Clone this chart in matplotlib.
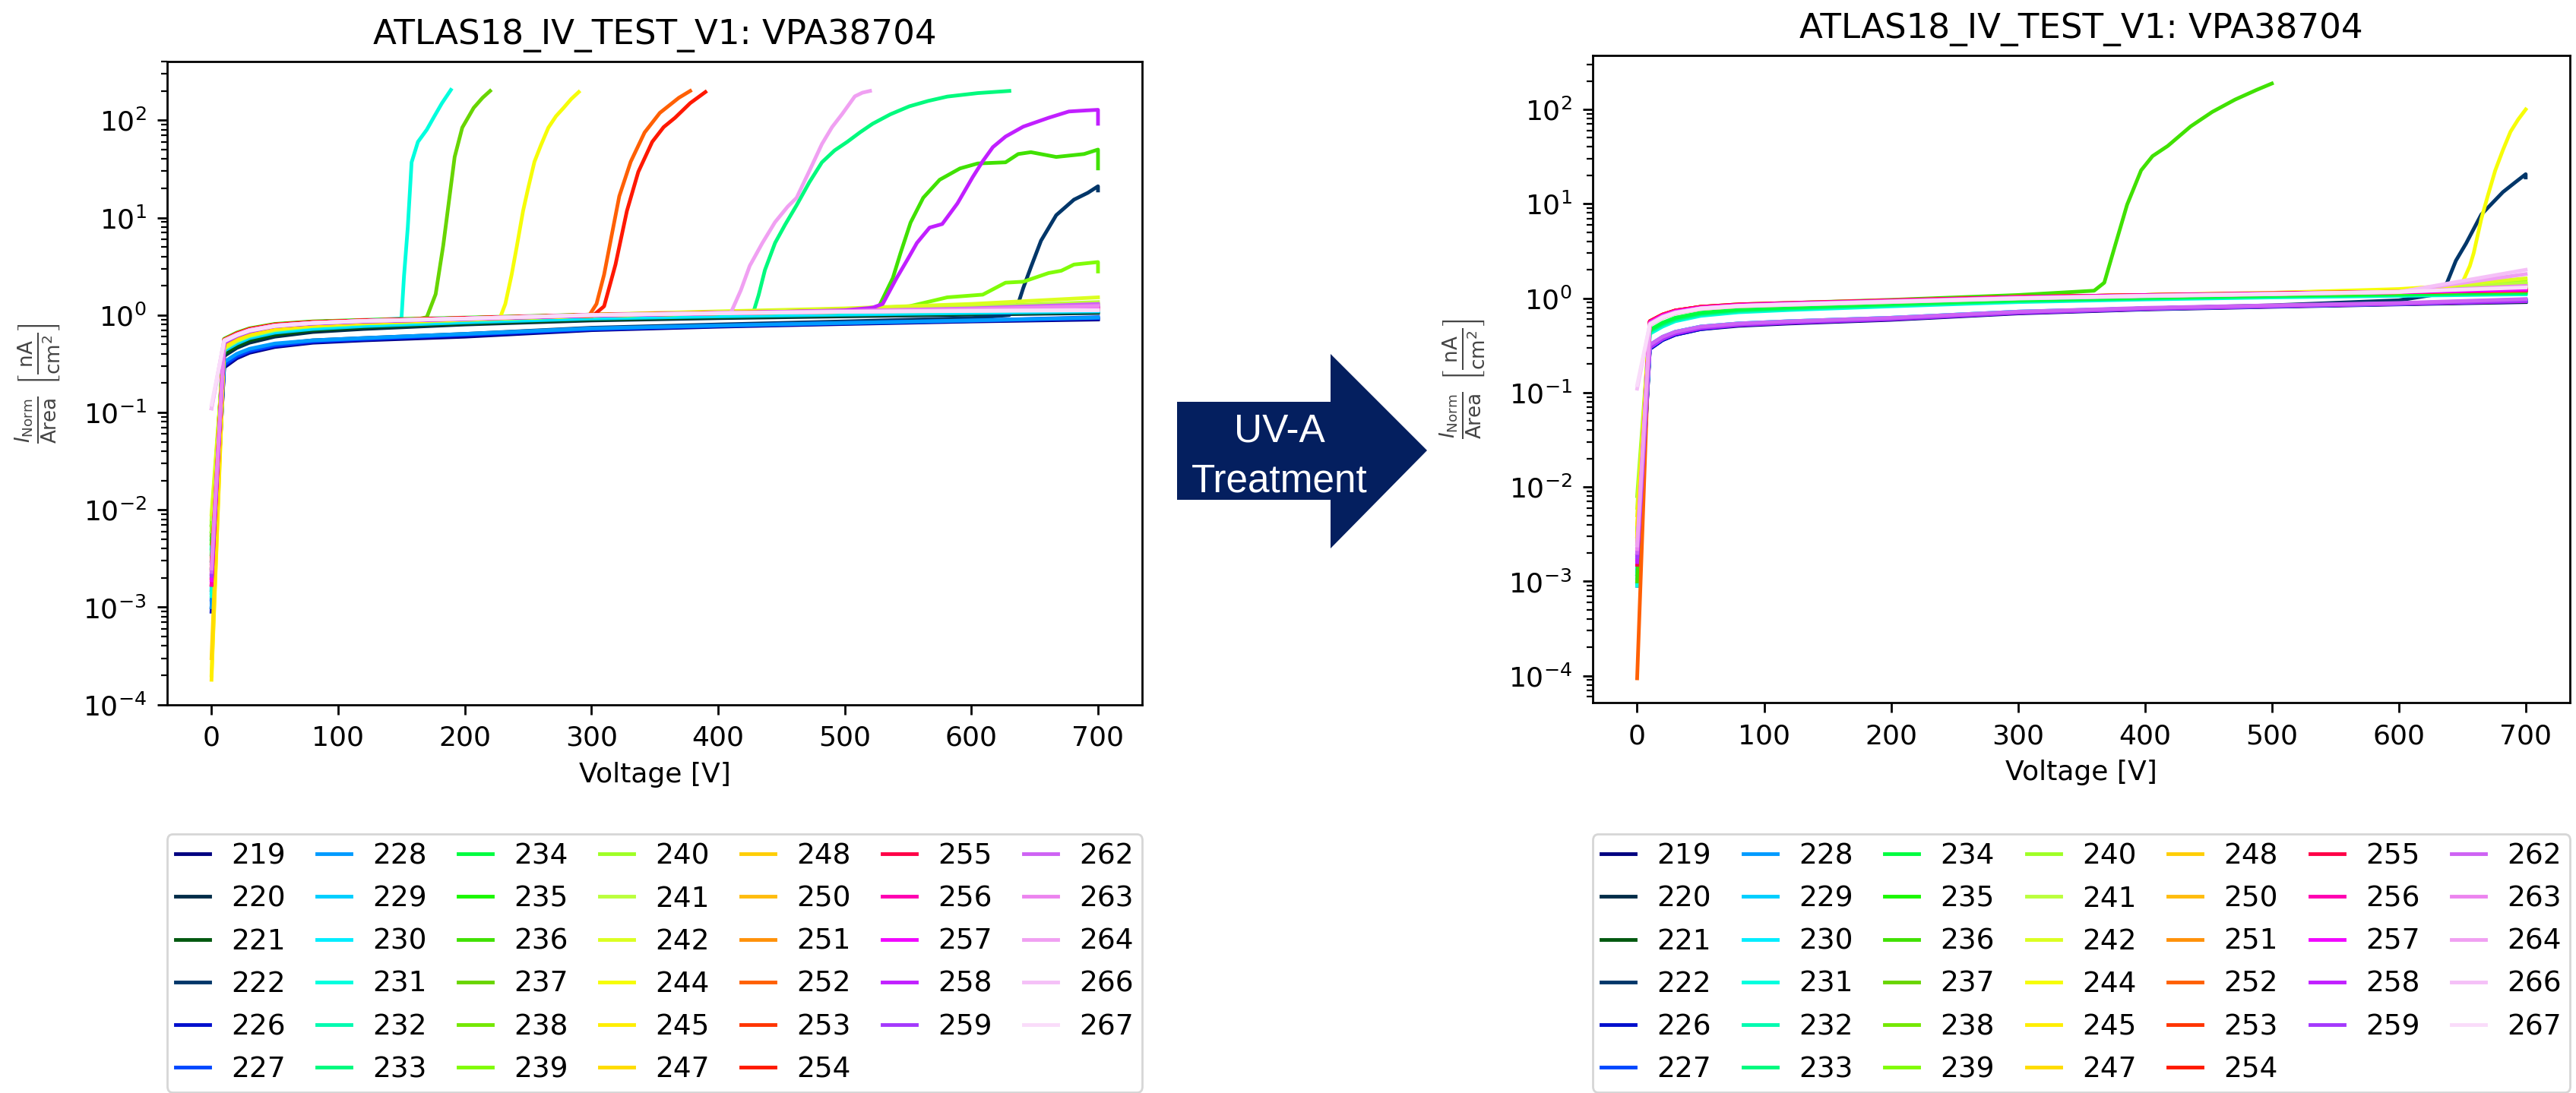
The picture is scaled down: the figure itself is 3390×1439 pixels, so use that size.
import matplotlib
matplotlib.use("Agg")
import matplotlib.pyplot as plt
import numpy as np
from matplotlib.patches import Polygon

# ---------------- data ----------------
LABELS = [219, 220, 221, 222, 226, 227, 228, 229, 230, 231, 232, 233, 234, 235,
          236, 237, 238, 239, 240, 241, 242, 244, 245, 247, 248, 250, 251, 252,
          253, 254, 255, 256, 257, 258, 259, 262, 263, 264, 266, 267]

V_GRID = [0, 10, 20, 30, 50, 80, 120, 200, 300, 400, 500, 600, 700]

TITLE = "ATLAS18_IV_TEST_V1: VPA38704"
XLABEL = "Voltage [V]"
YLABEL = r"$\frac{I_\mathrm{Norm}}{\mathrm{Area}}\ \left[\frac{\mathrm{nA}}{\mathrm{cm}^2}\right]$"
ARROW_TEXT = ["UV-A", "Treatment"]

# ---- before treatment (left panel), current density [nA/cm^2] on V_GRID ----
B219 = [1.0e-3, 0.29, 0.36, 0.41, 0.47, 0.52, 0.55, 0.60, 0.70, 0.76, 0.81, 0.86, 0.90]
B220 = [2.5e-3, 0.38, 0.46, 0.52, 0.60, 0.67, 0.72, 0.80, 0.88, 0.93, 0.97, 1.01, 1.05]
B221 = [3.0e-3, 0.40, 0.48, 0.55, 0.63, 0.70, 0.75, 0.82, 0.90, 0.95, 0.99, 1.03, 1.07]
B226 = [9.0e-4, 0.30, 0.37, 0.42, 0.48, 0.53, 0.56, 0.62, 0.71, 0.77, 0.82, 0.87, 0.92]
B227 = [1.2e-3, 0.31, 0.38, 0.43, 0.49, 0.54, 0.57, 0.63, 0.72, 0.78, 0.83, 0.88, 0.95]
B228 = [1.0e-3, 0.33, 0.40, 0.45, 0.51, 0.55, 0.58, 0.64, 0.73, 0.78, 0.83, 0.88, 0.94]
B229 = [1.4e-3, 0.43, 0.51, 0.58, 0.66, 0.72, 0.77, 0.84, 0.92, 0.97, 1.01, 1.05, 1.09]
B230 = [1.6e-3, 0.45, 0.53, 0.60, 0.68, 0.74, 0.79, 0.86, 0.94, 0.99, 1.03, 1.07, 1.11]
B232 = [4.0e-3, 0.52, 0.61, 0.68, 0.77, 0.82, 0.86, 0.91, 0.98, 1.03, 1.07, 1.10, 1.14]
B234 = [5.0e-3, 0.56, 0.65, 0.72, 0.80, 0.85, 0.88, 0.93, 1.00, 1.05, 1.09, 1.12, 1.16]
B235 = [6.0e-3, 0.57, 0.66, 0.73, 0.81, 0.86, 0.89, 0.94, 1.01, 1.06, 1.10, 1.13, 1.17]
B238 = [7.0e-3, 0.50, 0.59, 0.66, 0.75, 0.81, 0.85, 0.91, 0.99, 1.04, 1.08, 1.12, 1.18]
B240 = [6.0e-3, 0.46, 0.55, 0.62, 0.71, 0.77, 0.82, 0.89, 0.98, 1.04, 1.10, 1.18, 1.28]
B241 = [8.0e-3, 0.45, 0.54, 0.61, 0.70, 0.77, 0.82, 0.89, 0.99, 1.06, 1.13, 1.22, 1.36]
B242 = [9.0e-3, 0.48, 0.57, 0.65, 0.74, 0.80, 0.85, 0.91, 1.01, 1.09, 1.17, 1.30, 1.52]
B245 = [1.8e-4, 0.47, 0.56, 0.63, 0.72, 0.78, 0.83, 0.90, 0.98, 1.04, 1.09, 1.15, 1.22]
B247 = [3.0e-4, 0.50, 0.59, 0.66, 0.75, 0.81, 0.85, 0.91, 0.99, 1.04, 1.08, 1.13, 1.19]
B248 = [2.0e-3, 0.53, 0.62, 0.69, 0.78, 0.83, 0.87, 0.92, 1.00, 1.05, 1.09, 1.12, 1.16]
B250 = [2.2e-3, 0.54, 0.63, 0.70, 0.79, 0.84, 0.87, 0.92, 1.00, 1.05, 1.09, 1.12, 1.15]
B251 = [2.4e-3, 0.55, 0.64, 0.71, 0.79, 0.84, 0.88, 0.93, 1.00, 1.05, 1.09, 1.13, 1.17]
B253 = [2.6e-3, 0.56, 0.65, 0.72, 0.80, 0.85, 0.88, 0.93, 1.01, 1.06, 1.10, 1.13, 1.18]
B255 = [2.0e-3, 0.55, 0.64, 0.71, 0.79, 0.84, 0.88, 0.93, 1.00, 1.05, 1.09, 1.12, 1.16]
B256 = [1.7e-3, 0.54, 0.63, 0.70, 0.78, 0.83, 0.87, 0.92, 1.00, 1.05, 1.09, 1.12, 1.17]
B257 = [1.9e-3, 0.53, 0.62, 0.69, 0.77, 0.83, 0.87, 0.92, 0.99, 1.04, 1.08, 1.12, 1.18]
B259 = [2.1e-3, 0.52, 0.61, 0.68, 0.77, 0.82, 0.86, 0.91, 0.99, 1.04, 1.09, 1.15, 1.25]
B262 = [2.3e-3, 0.53, 0.62, 0.69, 0.77, 0.82, 0.86, 0.91, 0.99, 1.05, 1.10, 1.17, 1.30]
B263 = [2.5e-3, 0.54, 0.63, 0.70, 0.78, 0.83, 0.87, 0.92, 1.00, 1.05, 1.10, 1.15, 1.24]
B266 = [0.11, 0.55, 0.63, 0.70, 0.78, 0.83, 0.87, 0.92, 1.00, 1.05, 1.08, 1.11, 1.13]
B267 = [0.12, 0.54, 0.62, 0.69, 0.77, 0.83, 0.87, 0.92, 1.00, 1.04, 1.08, 1.10, 1.12]

# breakdown curves (own voltage lists)
B222_V = V_GRID[:12] + [630, 637, 641, 647, 655, 667, 681, 692, 700, 700]
B222 = [1.5e-3, 0.32, 0.39, 0.44, 0.50, 0.55, 0.58, 0.64, 0.74, 0.80, 0.86, 0.93,
        1.0, 1.31, 1.9, 3.1, 5.8, 10.6, 15.3, 18, 21, 19]
B231_V = V_GRID[:7] + [150, 152, 155, 158, 163, 170, 176, 182, 189]
B231 = [1.3e-3, 0.55, 0.64, 0.71, 0.80, 0.85, 0.88,
        0.92, 2.5, 8, 37, 60, 80, 110, 150, 205]
B233_V = V_GRID[:10] + [428, 432, 437, 445, 453, 462, 472, 482, 492, 502, 512, 522,
                        536, 551, 566, 581, 605, 630]
B233 = [3.5e-3, 0.55, 0.64, 0.71, 0.80, 0.85, 0.88, 0.93, 1.0, 1.05,
        1.08, 1.6, 2.9, 5.5, 8.5, 13.4, 23, 37, 49, 60, 75, 92, 115, 139, 158, 175, 190, 200]
B236_V = V_GRID[:11] + [527, 538, 544, 552, 562, 575, 591, 605, 627, 637, 647, 667,
                        689, 700, 700]
B236 = [4.5e-3, 0.54, 0.63, 0.70, 0.79, 0.84, 0.87, 0.92, 0.99, 1.04, 1.10,
        1.22, 2.4, 4.3, 8.9, 16, 24.5, 32, 36, 37, 45, 47, 42, 45, 50, 32]
B237_V = V_GRID[:7] + [165, 170, 177, 183, 188, 192, 198, 207, 214, 220]
B237 = [5.5e-3, 0.56, 0.65, 0.72, 0.80, 0.85, 0.88,
        0.92, 0.95, 1.64, 5.2, 16.6, 42, 84, 134, 170, 200]
B239_V = V_GRID[:11] + [551, 581, 609, 627, 641, 661, 671, 681, 700, 700]
B239 = [7e-3, 0.48, 0.57, 0.64, 0.73, 0.79, 0.83, 0.90, 0.99, 1.06, 1.14,
        1.23, 1.52, 1.62, 2.15, 2.2, 2.7, 2.85, 3.3, 3.5, 2.8]
B244_V = V_GRID[:8] + [228, 232, 237, 241, 246, 250, 255, 260, 266, 272, 278, 284, 290]
B244 = [2.0e-4, 0.49, 0.58, 0.65, 0.74, 0.80, 0.84, 0.91,
        0.95, 1.3, 2.6, 5, 11.7, 20, 37.5, 55, 84, 110, 134, 165, 195]
B252_V = V_GRID[:8] + [250, 298, 304, 310, 316, 322, 331, 342, 354, 369, 378]
B252 = [2.8e-3, 0.56, 0.65, 0.72, 0.80, 0.85, 0.88, 0.93,
        0.96, 0.98, 1.3, 2.6, 6.6, 16.6, 37.5, 75, 119, 170, 200]
B254_V = V_GRID[:8] + [250, 301, 310, 319, 328, 337, 348, 357, 366, 378, 390]
B254 = [1.7e-3, 0.55, 0.64, 0.71, 0.79, 0.84, 0.88, 0.93,
        0.96, 0.98, 1.23, 3.3, 11.7, 29.5, 60, 85, 106, 150, 195]
B258_V = V_GRID[:11] + [522, 530, 541, 550, 557, 567, 577, 589, 601, 609, 617, 627,
                        641, 661, 677, 690, 700, 700]
B258 = [2.2e-3, 0.52, 0.61, 0.68, 0.77, 0.82, 0.86, 0.91, 0.99, 1.04, 1.12,
        1.19, 1.3, 2.4, 3.8, 5.5, 7.9, 8.6, 14, 26, 38, 53, 68, 86, 106, 123, 126, 128, 92]
B264_V = V_GRID[:10] + [410, 418, 425, 435, 445, 455, 462, 472, 482, 490, 498, 508, 514, 520]
B264 = [0.11, 0.55, 0.63, 0.70, 0.78, 0.83, 0.87, 0.92, 1.0, 1.05,
        1.05, 1.8, 3.2, 5.5, 9, 13, 16, 30, 57, 85, 116, 176, 192, 200]

# ---- after UV-A treatment (right panel) ----
A219 = [1.0e-3, 0.29, 0.36, 0.41, 0.47, 0.51, 0.54, 0.59, 0.69, 0.76, 0.81, 0.86, 0.91]
A220 = [1.2e-3, 0.31, 0.38, 0.43, 0.49, 0.53, 0.56, 0.61, 0.71, 0.78, 0.83, 0.88, 0.94]
A221 = [1.1e-3, 0.30, 0.37, 0.42, 0.48, 0.52, 0.55, 0.60, 0.70, 0.77, 0.82, 0.87, 0.92]
A226 = [9.0e-4, 0.29, 0.36, 0.41, 0.47, 0.52, 0.55, 0.60, 0.70, 0.77, 0.82, 0.87, 0.93]
A227 = [1.3e-3, 0.31, 0.38, 0.43, 0.49, 0.53, 0.56, 0.61, 0.71, 0.78, 0.83, 0.88, 0.95]
A228 = [1.0e-3, 0.32, 0.39, 0.44, 0.50, 0.54, 0.57, 0.62, 0.72, 0.78, 0.83, 0.88, 0.96]
A229 = [1.4e-3, 0.30, 0.37, 0.43, 0.49, 0.53, 0.56, 0.61, 0.71, 0.77, 0.82, 0.87, 0.94]
A230 = [1.1e-3, 0.31, 0.38, 0.44, 0.50, 0.54, 0.57, 0.62, 0.72, 0.78, 0.83, 0.88, 0.97]
A231 = [9.0e-4, 0.42, 0.50, 0.57, 0.65, 0.71, 0.75, 0.82, 0.91, 0.97, 1.02, 1.06, 1.10]
A232 = [1.2e-3, 0.44, 0.52, 0.59, 0.67, 0.73, 0.77, 0.84, 0.93, 0.99, 1.04, 1.08, 1.12]
A233 = [1.5e-3, 0.45, 0.53, 0.60, 0.68, 0.74, 0.78, 0.85, 0.94, 1.00, 1.05, 1.09, 1.14]
A234 = [1.7e-3, 0.46, 0.55, 0.62, 0.70, 0.76, 0.80, 0.87, 0.95, 1.01, 1.06, 1.10, 1.15]
A235 = [2.0e-3, 0.56, 0.66, 0.73, 0.80, 0.85, 0.88, 0.94, 1.03, 1.08, 1.12, 1.16, 1.22]
A237 = [2.5e-3, 0.55, 0.65, 0.72, 0.79, 0.84, 0.87, 0.93, 1.02, 1.07, 1.11, 1.15, 1.25]
A238 = [3.0e-3, 0.54, 0.64, 0.71, 0.78, 0.83, 0.86, 0.92, 1.01, 1.06, 1.10, 1.14, 1.30]
A239 = [3.5e-3, 0.53, 0.63, 0.70, 0.77, 0.82, 0.86, 0.92, 1.01, 1.06, 1.11, 1.16, 1.40]
A240 = [8.0e-3, 0.52, 0.62, 0.69, 0.77, 0.82, 0.85, 0.91, 1.00, 1.06, 1.11, 1.17, 1.50]
A241 = [6.0e-3, 0.53, 0.63, 0.70, 0.78, 0.83, 0.86, 0.92, 1.01, 1.07, 1.12, 1.18, 1.45]
A242 = [5.0e-3, 0.54, 0.64, 0.71, 0.79, 0.84, 0.87, 0.93, 1.02, 1.08, 1.14, 1.22, 1.62]
A245 = [4.0e-3, 0.55, 0.65, 0.72, 0.79, 0.84, 0.87, 0.93, 1.02, 1.07, 1.12, 1.17, 1.25]
A247 = [3.0e-3, 0.56, 0.66, 0.73, 0.80, 0.85, 0.88, 0.94, 1.02, 1.07, 1.12, 1.16, 1.22]
A248 = [2.5e-3, 0.56, 0.66, 0.73, 0.80, 0.85, 0.88, 0.94, 1.03, 1.08, 1.12, 1.16, 1.20]
A250 = [2.2e-3, 0.57, 0.67, 0.74, 0.81, 0.85, 0.88, 0.94, 1.03, 1.08, 1.12, 1.16, 1.21]
A251 = [2.0e-3, 0.57, 0.67, 0.74, 0.81, 0.86, 0.89, 0.95, 1.03, 1.08, 1.13, 1.17, 1.22]
A252 = [9.4e-5, 0.56, 0.66, 0.73, 0.80, 0.85, 0.88, 0.94, 1.02, 1.07, 1.12, 1.16, 1.20]
A253 = [1.9e-3, 0.56, 0.66, 0.73, 0.80, 0.85, 0.88, 0.94, 1.02, 1.07, 1.12, 1.16, 1.21]
A254 = [2.0e-3, 0.57, 0.67, 0.74, 0.81, 0.85, 0.88, 0.94, 1.03, 1.08, 1.12, 1.16, 1.22]
A255 = [1.5e-3, 0.57, 0.67, 0.74, 0.81, 0.86, 0.89, 0.95, 1.03, 1.08, 1.13, 1.17, 1.23]
A256 = [1.7e-3, 0.56, 0.66, 0.73, 0.80, 0.85, 0.88, 0.94, 1.02, 1.07, 1.12, 1.16, 1.22]
A257 = [1.8e-3, 0.55, 0.65, 0.72, 0.79, 0.84, 0.88, 0.93, 1.02, 1.07, 1.12, 1.16, 1.24]
A258 = [1.6e-3, 0.30, 0.37, 0.42, 0.48, 0.52, 0.55, 0.60, 0.70, 0.77, 0.82, 0.87, 0.93]
A259 = [1.8e-3, 0.31, 0.38, 0.43, 0.49, 0.53, 0.56, 0.61, 0.71, 0.78, 0.83, 0.88, 0.95]
A262 = [2.0e-3, 0.32, 0.39, 0.44, 0.50, 0.54, 0.57, 0.62, 0.72, 0.79, 0.84, 0.89, 0.98]
A263 = [2.2e-3, 0.54, 0.64, 0.71, 0.78, 0.83, 0.87, 0.93, 1.01, 1.06, 1.11, 1.16, 1.35]
A264 = [2.4e-3, 0.53, 0.63, 0.70, 0.78, 0.83, 0.86, 0.92, 1.00, 1.06, 1.11, 1.17, 1.80]
A266 = [0.11, 0.52, 0.62, 0.69, 0.77, 0.82, 0.85, 0.91, 0.99, 1.05, 1.10, 1.16, 2.00]
A267 = [0.12, 0.53, 0.63, 0.70, 0.78, 0.83, 0.86, 0.92, 1.00, 1.06, 1.11, 1.17, 1.30]

A222_V = V_GRID[:12] + [630, 638, 645, 653, 665, 682, 692, 700, 700]
A222 = [1.2e-3, 0.31, 0.38, 0.43, 0.49, 0.53, 0.56, 0.61, 0.71, 0.78, 0.84, 0.95,
        1.1, 1.46, 2.5, 3.8, 7.7, 13.3, 17, 20.6, 19]
A236_V = V_GRID[:9] + [360, 368, 377, 386, 397, 406, 418, 436, 453, 471, 488, 500]
A236 = [1.0e-3, 0.56, 0.66, 0.73, 0.81, 0.86, 0.89, 0.96, 1.08,
        1.2, 1.46, 3.8, 9.8, 22.6, 32, 41, 66, 94, 127, 161, 188]
A244_V = V_GRID[:12] + [640, 650, 656, 659, 665, 670, 676, 682, 688, 694, 700]
A244 = [3.0e-3, 0.55, 0.65, 0.72, 0.79, 0.84, 0.87, 0.93, 1.02, 1.08, 1.14, 1.25,
        1.35, 1.45, 2.2, 3.0, 6.9, 12, 22.6, 37, 58, 78, 100]


def series(prefix, lab):
    g = globals()
    values = g[f"{prefix}{lab}"]
    volts = g.get(f"{prefix}{lab}_V", V_GRID)
    return volts, values


# ---------------- figure ----------------
W, H = 3391, 1439
fig = plt.figure(figsize=(W / 100, H / 100), dpi=100)
fig.patch.set_facecolor("white")


def px_rect(x0, y0, x1, y1):
    return [x0 / W, 1 - y1 / H, (x1 - x0) / W, (y1 - y0) / H]


ax_l = fig.add_axes(px_rect(220, 80.7, 1503.3, 927.7))
ax_r = fig.add_axes(px_rect(2096, 72.7, 3382.3, 925))

colors = plt.cm.gist_ncar(np.arange(len(LABELS)) / len(LABELS))
LEG_TOP = 1098

for ax, prefix, ylim in [(ax_l, "B", (1e-4, 403)), (ax_r, "A", (5.2e-5, 375))]:
    for i, lab in enumerate(LABELS):
        v, c = series(prefix, lab)
        ax.plot(v, c, color=colors[i], lw=3.5, label=str(lab), solid_joinstyle="round")
    ax.set_yscale("log")
    ax.set_xlim(-35, 735)
    ax.set_ylim(*ylim)
    ax.set_xticks([0, 100, 200, 300, 400, 500, 600, 700])
    ax.set_title(TITLE, fontsize=32.5, pad=16)
    ax.set_xlabel(XLABEL, fontsize=26, labelpad=10)
    ax.set_ylabel(YLABEL, fontsize=27, color="#444444")
    ax.yaxis.set_label_coords(-0.107, 0.5)
    ax.tick_params(axis="both", which="major", labelsize=26, length=9.5, width=2, pad=10)
    ax.tick_params(axis="both", which="minor", length=5.5, width=1.6)
    for s in ax.spines.values():
        s.set_linewidth(2)
    pos = ax.get_position()
    y_leg = ((1 - LEG_TOP / H) - pos.y0) / pos.height
    leg = ax.legend(loc="upper left", bbox_to_anchor=(0, y_leg, 1, 0), mode="expand",
                    ncol=7, fontsize=27, handlelength=1.2, handletextpad=0.75,
                    labelspacing=0.54, borderpad=0.3, borderaxespad=0,
                    frameon=True, fancybox=True, edgecolor="#cccccc")
    leg.get_frame().set_linewidth(2)

# UV-A treatment arrow
arrow_px = [(1549, 529), (1751, 529), (1751, 466), (1878, 593),
            (1751, 722), (1751, 658), (1549, 658)]
arrow = Polygon([(x / W, 1 - y / H) for x, y in arrow_px], closed=True,
                transform=fig.transFigure, facecolor="#041f5f", edgecolor="none")
fig.patches.append(arrow)
fig.text(1684 / W, 1 - 582 / H, ARROW_TEXT[0], ha="center", va="baseline",
         fontsize=37, color="white", family="Liberation Sans")
fig.text(1684 / W, 1 - 647 / H, ARROW_TEXT[1], ha="center", va="baseline",
         fontsize=37, color="white", family="Liberation Sans")

fig.savefig("out.png", dpi=100)
